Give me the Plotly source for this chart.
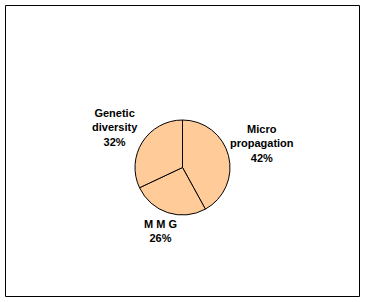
import plotly.graph_objects as go

labels = ["Micro<br>propagation", "M M G", "Genetic<br>diversity"]
values = [42, 26, 32]
colors = ["#FFCC99", "#FFCC99", "#FFCC99"]

W, H = 365, 302

fig = go.Figure(go.Pie(
    labels=labels, values=values, sort=False, direction="clockwise", rotation=0,
    marker=dict(colors=colors, line=dict(color="black", width=1)),
    textinfo="none", hoverinfo="skip", showlegend=False,
    domain=dict(x=[135 / W, 230 / W], y=[1 - 215 / H, 1 - 120 / H]),
))

# label positions (pixel centres of the text blocks)
label_pos = [(262, 143), (160, 231), (115, 127)]
for lab, val, (px, py) in zip(labels, values, label_pos):
    fig.add_annotation(
        x=px / W, y=1 - py / H, xref="paper", yref="paper",
        text=f"{lab}<br>{val}%", showarrow=False, align="center",
        xanchor="center", yanchor="middle",
        font=dict(family="Liberation Sans, Arial, sans-serif", size=11, color="black", weight="bold"),
    )

fig.add_shape(type="rect", xref="paper", yref="paper",
              x0=5.5 / W, x1=359.5 / W, y0=1 - 296.5 / H, y1=1 - 5.5 / H,
              line=dict(color="black", width=1))

fig.update_layout(width=W, height=H, margin=dict(l=0, r=0, t=0, b=0),
                  paper_bgcolor="white", plot_bgcolor="white")
fig.write_html("out.html", config={"displayModeBar": False})
